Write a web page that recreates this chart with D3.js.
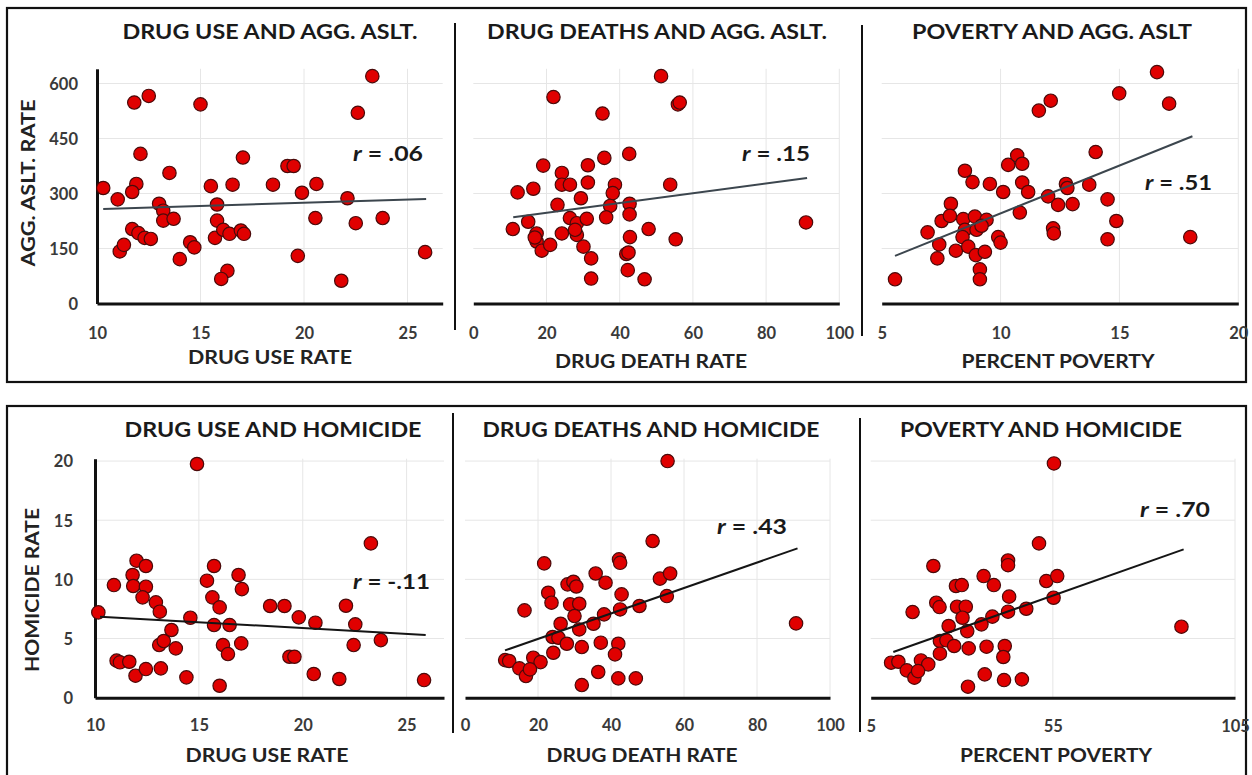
<!DOCTYPE html>
<html>
<head>
<meta charset="utf-8">
<script src="https://cdn.jsdelivr.net/npm/d3@7/dist/d3.min.js"></script>
<style>
  html, body { margin: 0; padding: 0; background: #fff; }
  svg { display: block; }
</style>
</head>
<body>
<svg id="chart" width="1252" height="775"></svg>
<script>
// ---------------- DATA ----------------
// Tick values
const aggTicks = [0, 150, 300, 450, 600];
const homTicks = [0, 5, 10, 15, 20];
const drugUseTicks = [10, 15, 20, 25];
const drugDeathTicks = [0, 20, 40, 60, 80, 100];
const povertyTicksTop = [5, 10, 15, 20];
const povertyTicksBottom = [5, 55, 105];

// Panel 1: drug use rate vs aggravated assault rate
const drugUseAgg = [
  [10.3,315],[11.0,284],[11.1,142],[11.3,160],[11.8,548],[12.5,566],[11.9,326],[11.7,304],
  [12.1,408],[11.7,203],[12.0,192],[12.3,179],[12.6,176],[13.0,272],[13.2,253],[13.2,226],
  [13.5,356],[13.7,231],[14.0,121],[14.5,167],[14.7,153],[15.0,543],[15.5,320],[15.8,270],
  [15.8,226],[15.7,179],[16.1,201],[16.4,190],[16.3,89],[16.0,67],[16.55,324],[16.95,199],
  [17.1,190],[17.05,398],[18.5,324],[19.2,375],[19.5,375],[19.7,130],[19.9,302],[20.6,326],
  [20.55,233],[21.8,62],[22.1,287],[22.5,219],[22.6,520],[23.3,620],[23.8,233],[25.85,140]
];
// Panel 2: drug death rate vs aggravated assault rate
const drugDeathAgg = [
  [21.9,563],[35.3,518],[51.3,620],[55.9,543],[56.4,548],[19.1,376],[12.1,303],[16.4,313],
  [24.2,356],[24.2,324],[26.4,324],[31.3,377],[31.3,330],[35.8,397],[42.6,408],[38.7,324],
  [38.1,301],[29.4,287],[23.0,269],[37.4,266],[42.7,272],[42.7,243],[53.8,324],[10.8,203],
  [15.0,223],[17.3,191],[17.3,169],[18.7,144],[21.0,160],[24.2,191],[26.4,233],[28.3,219],
  [28.3,187],[31.0,231],[30.1,155],[32.2,123],[32.2,68],[36.3,235],[42.8,181],[47.9,203],
  [41.8,135],[42.4,139],[42.2,91],[46.8,66],[55.3,175],[90.9,221],[27.8,201],[16.8,180]
];
// Panel 3: percent poverty vs aggravated assault rate
const povertyAgg = [
  [5.56,66],[6.93,194],[7.42,161],[7.34,123],[7.52,225],[7.91,272],[7.87,239],[8.12,144],
  [8.50,362],[8.82,331],[8.43,230],[8.50,201],[8.40,181],[8.64,155],[8.92,237],[8.99,201],
  [8.96,132],[9.13,93],[9.13,66],[9.34,141],[9.41,228],[9.55,326],[10.11,304],[9.90,181],
  [10.0,166],[10.32,378],[10.70,404],[10.91,381],[10.91,330],[11.16,304],[10.81,248],[11.61,526],
  [12.11,553],[12.0,292],[12.42,269],[12.21,205],[12.24,191],[12.75,326],[12.81,315],[13.03,271],
  [13.73,324],[14.0,413],[14.5,284],[14.87,225],[14.5,175],[14.99,573],[16.58,631],[17.09,545],
  [17.98,181],[9.2,212]
];
// Panel 4: drug use rate vs homicide rate
const drugUseHom = [
  [10.16,7.21],[10.91,9.52],[11.04,3.13],[11.2,2.99],[11.65,3.04],[11.95,1.86],[11.81,10.37],[12.0,11.58],
  [12.45,11.13],[11.84,9.44],[12.45,9.38],[12.29,8.48],[12.93,8.06],[13.12,7.27],[12.45,2.42],[13.17,2.48],
  [13.09,4.45],[13.31,4.79],[13.68,5.72],[13.89,4.17],[14.4,1.72],[14.59,6.76],[14.91,19.75],[15.39,9.89],
  [15.73,11.13],[15.65,8.48],[16.0,7.63],[15.73,6.14],[16.48,6.14],[16.16,4.45],[16.4,3.69],[16.0,1.01],
  [16.91,10.37],[17.07,9.18],[17.04,4.59],[18.43,7.75],[19.12,7.75],[19.36,3.46],[19.6,3.46],[19.81,6.79],
  [20.61,6.34],[20.53,2.0],[21.76,1.58],[22.08,7.77],[22.53,6.2],[22.45,4.45],[23.28,13.04],[23.76,4.87],
  [25.84,1.49]
];
// Panel 5: drug death rate vs homicide rate
const drugDeathHom = [
  [55.5,20.0],[51.4,13.24],[42.2,11.69],[42.5,11.4],[21.7,11.35],[35.8,10.5],[38.5,9.72],[28.1,9.58],
  [29.7,9.8],[53.4,10.06],[56.2,10.5],[55.3,8.59],[42.9,8.73],[22.8,8.87],[23.7,8.03],[28.8,7.89],
  [31.3,7.94],[30.0,6.9],[38.1,7.04],[42.5,7.46],[47.8,7.75],[16.3,7.38],[26.2,6.25],[35.2,6.25],
  [31.3,5.77],[24.0,5.13],[25.6,5.07],[27.9,4.56],[32.0,4.28],[37.2,4.65],[42.0,4.56],[41.1,3.66],
  [24.2,3.8],[11.0,3.18],[12.1,3.1],[14.9,2.48],[16.7,1.83],[18.7,3.38],[20.7,3.01],[17.8,2.39],
  [32.0,1.07],[36.5,2.17],[42.0,1.63],[46.8,1.63],[90.7,6.28],[30.5,9.4]
];
// Panel 6: percent poverty vs homicide rate
const povertyHom = [
  [55.3,19.8],[51.2,13.04],[42.7,11.6],[42.7,11.2],[22.2,11.13],[36.0,10.28],[38.8,9.52],[28.4,9.44],
  [30.0,9.52],[53.2,9.86],[56.2,10.28],[55.2,8.45],[43.0,8.54],[23.0,8.03],[23.9,7.66],[28.7,7.69],
  [31.1,7.69],[16.5,7.24],[30.2,6.76],[38.4,6.85],[42.7,7.27],[47.7,7.52],[26.4,6.06],[35.4,6.2],
  [31.5,5.63],[24.0,4.79],[25.8,4.85],[27.9,4.37],[31.9,4.17],[36.8,4.31],[41.8,4.37],[41.4,3.44],
  [24.0,3.72],[10.6,2.96],[12.6,3.04],[14.9,2.31],[17.0,1.69],[18.8,3.15],[20.8,2.82],[18.0,2.25],
  [31.7,0.93],[36.3,1.97],[41.6,1.49],[46.5,1.55],[90.3,6.0]
];

// Trend line end points
const trendDrugUseAgg = [[10.3,258],[25.9,285]];
const trendDrugDeathAgg = [[10.9,235],[91.2,342]];
const trendPovertyAgg = [[5.56,130],[18.07,456]];
const trendDrugUseHom = [[10.24,6.85],[25.92,5.30]];
const trendDrugDeathHom = [[10.96,4.0],[91.1,12.62]];
const trendPovertyHom = [[11.2,3.86],[90.9,12.54]];

// Correlation labels
const rLabels = [".06", ".15", ".51", "-.11", ".43", ".70"];

// Titles
const panelTitles = ["DRUG USE AND AGG. ASLT.", "DRUG DEATHS AND AGG. ASLT.", "POVERTY AND AGG. ASLT",
                     "DRUG USE AND HOMICIDE", "DRUG DEATHS AND HOMICIDE", "POVERTY AND HOMICIDE"];
const xAxisTitles = ["DRUG USE RATE", "DRUG DEATH RATE", "PERCENT POVERTY",
                     "DRUG USE RATE", "DRUG DEATH RATE", "PERCENT POVERTY"];
const yAxisTitles = ["AGG. ASLT. RATE", "HOMICIDE RATE"];

// ---------------- LAYOUT ----------------
const FONT = "Lato, 'Open Sans', 'DejaVu Sans', sans-serif";
const svg = d3.select("#chart");

// frames
svg.append("rect").attr("x", 7).attr("y", 8).attr("width", 1239).attr("height", 374)
  .attr("fill", "none").attr("stroke", "#111").attr("stroke-width", 2.2);
svg.append("rect").attr("x", 7).attr("y", 406).attr("width", 1239).attr("height", 380)
  .attr("fill", "none").attr("stroke", "#111").attr("stroke-width", 2.2);

// separators
[[455, 23, 330], [862, 25, 336], [453, 413, 733], [860, 418, 732]].forEach(s => {
  svg.append("line").attr("x1", s[0]).attr("x2", s[0]).attr("y1", s[1]).attr("y2", s[2])
    .attr("stroke", "#111").attr("stroke-width", 2);
});

const panels = [
  { pts: drugUseAgg, trend: trendDrugUseAgg, xDom: [10, 26.7], xRng: [97, 442.7], yDom: [0, 640], yRng: [303.5, 68.8],
    xTicks: drugUseTicks, yTicks: aggTicks, yAxis: true, yLabX: 78, xLabY: 333,
    title: [270, 32, 295], xt: [270, 357, 164], yt: [28, 183, 167], r: [353, 154, 70], trendColor: "#3c464e" },
  { pts: drugDeathAgg, trend: trendDrugDeathAgg, xDom: [0, 100], xRng: [473.3, 839.3], yDom: [0, 640], yRng: [303.5, 68.8],
    xTicks: drugDeathTicks, yTicks: aggTicks, yAxis: false, xLabY: 333,
    title: [657, 32, 340], xt: [651, 361, 192], r: [742, 154, 68], trendColor: "#3c464e" },
  { pts: povertyAgg, trend: trendPovertyAgg, xDom: [5, 20], xRng: [881.7, 1238.3], yDom: [0, 640], yRng: [303.5, 68.8],
    xTicks: povertyTicksTop, yTicks: aggTicks, yAxis: false, xLabY: 333,
    title: [1052, 32, 280], xt: [1058, 361, 193], r: [1145, 183, 67], trendColor: "#3c464e" },
  { pts: drugUseHom, trend: trendDrugUseHom, xDom: [10, 26.8], xRng: [95, 444], yDom: [0, 20.2], yRng: [697.7, 458.7],
    xTicks: drugUseTicks, yTicks: homTicks, yAxis: true, yLabX: 73, xLabY: 725,
    title: [273, 430, 297], xt: [267, 755, 163], yt: [32, 590, 164], r: [353, 582, 77], trendColor: "#151515" },
  { pts: drugDeathHom, trend: trendDrugDeathHom, xDom: [0, 100], xRng: [465, 830], yDom: [0, 20.2], yRng: [697.7, 458.7],
    xTicks: drugDeathTicks, yTicks: homTicks, yAxis: false, xLabY: 725,
    title: [651, 430, 337], xt: [642, 755, 191], r: [717, 527, 70], trendColor: "#151515" },
  { pts: povertyHom, trend: trendPovertyHom, xDom: [5, 105], xRng: [870.7, 1235], yDom: [0, 20.2], yRng: [697.7, 458.7],
    xTicks: povertyTicksBottom, yTicks: homTicks, yAxis: false, xLabY: 726,
    title: [1041, 430, 282], xt: [1056, 755, 192], r: [1140, 510, 70], trendColor: "#151515" }
];

panels.forEach((p, i) => {
  const x = d3.scaleLinear().domain(p.xDom).range(p.xRng);
  const y = d3.scaleLinear().domain(p.yDom).range(p.yRng);
  const g = svg.append("g");
  const yTop = p.yRng[1], yBot = p.yRng[0];

  // gridlines
  g.selectAll("line.hg").data(p.yTicks.filter(t => t > 0)).enter().append("line")
    .attr("x1", p.xRng[0]).attr("x2", p.xRng[1]).attr("y1", d => y(d)).attr("y2", d => y(d))
    .attr("stroke", "#e6e6e6").attr("stroke-width", 1);
  g.selectAll("line.vg").data(p.xTicks.filter(t => t > p.xDom[0])).enter().append("line")
    .attr("x1", d => x(d)).attr("x2", d => x(d)).attr("y1", yTop).attr("y2", yBot)
    .attr("stroke", "#e6e6e6").attr("stroke-width", 1);

  // x axis (line + labels) via d3 axis
  const xAxis = d3.axisBottom(x).tickValues(p.xTicks).tickSize(0).tickPadding(0);
  const xg = g.append("g").attr("transform", `translate(0,${yBot})`).call(xAxis);
  xg.select(".domain").attr("stroke", "#111").attr("stroke-width", 3);
  xg.selectAll("text").attr("y", p.xLabY - yBot).attr("dy", "0.35em")
    .attr("font-family", FONT).attr("font-weight", 700).attr("font-size", 16.5).attr("fill", "#3a3a3a");

  if (p.yAxis) {
    const yAxis = d3.axisLeft(y).tickValues(p.yTicks).tickSize(0).tickPadding(0);
    const yg = g.append("g").attr("transform", `translate(${p.xRng[0]},0)`).call(yAxis);
    yg.select(".domain").attr("stroke", "#111").attr("stroke-width", 3);
    yg.selectAll("text").attr("x", p.yLabX - p.xRng[0]).attr("dy", "0.35em").attr("text-anchor", "end")
      .attr("font-family", FONT).attr("font-weight", 700).attr("font-size", 16.5).attr("fill", "#3a3a3a");
    // y title
    g.append("text").attr("transform", `translate(${p.yt[0]},${p.yt[1]}) rotate(-90)`)
      .attr("text-anchor", "middle").attr("dy", "0.35em")
      .attr("font-family", FONT).attr("font-weight", 700).attr("font-size", 19).attr("fill", "#222")
      .attr("textLength", p.yt[2]).attr("lengthAdjust", "spacingAndGlyphs")
      .text(yAxisTitles[i < 3 ? 0 : 1]);
  }

  // title
  g.append("text").attr("x", p.title[0]).attr("y", p.title[1]).attr("dy", "0.35em")
    .attr("text-anchor", "middle").attr("font-family", FONT).attr("font-weight", 700)
    .attr("font-size", 20).attr("fill", "#1a1a1a")
    .attr("textLength", p.title[2]).attr("lengthAdjust", "spacingAndGlyphs")
    .text(panelTitles[i]);

  // x title
  g.append("text").attr("x", p.xt[0]).attr("y", p.xt[1]).attr("dy", "0.35em")
    .attr("text-anchor", "middle").attr("font-family", FONT).attr("font-weight", 700)
    .attr("font-size", 19).attr("fill", "#222")
    .attr("textLength", p.xt[2]).attr("lengthAdjust", "spacingAndGlyphs")
    .text(xAxisTitles[i]);

  // points
  g.selectAll("circle").data(p.pts).enter().append("circle")
    .attr("cx", d => x(d[0])).attr("cy", d => y(d[1])).attr("r", 6.7)
    .attr("fill", "#e00000").attr("stroke", "#4a0a0a").attr("stroke-width", 1.2);

  // trend line
  g.append("path").datum(p.trend)
    .attr("d", d3.line().x(d => x(d[0])).y(d => y(d[1])))
    .attr("fill", "none").attr("stroke", p.trendColor).attr("stroke-width", 2);

  // r label
  const rt = g.append("text").attr("x", p.r[0]).attr("y", p.r[1]).attr("dy", "0.35em")
    .attr("font-family", FONT).attr("font-weight", 700).attr("font-size", 20).attr("fill", "#1a1a1a")
    .attr("textLength", p.r[2]).attr("lengthAdjust", "spacingAndGlyphs");
  rt.append("tspan").attr("font-style", "italic").text("r");
  rt.append("tspan").text(" = " + rLabels[i]);
});
</script>
</body>
</html>
